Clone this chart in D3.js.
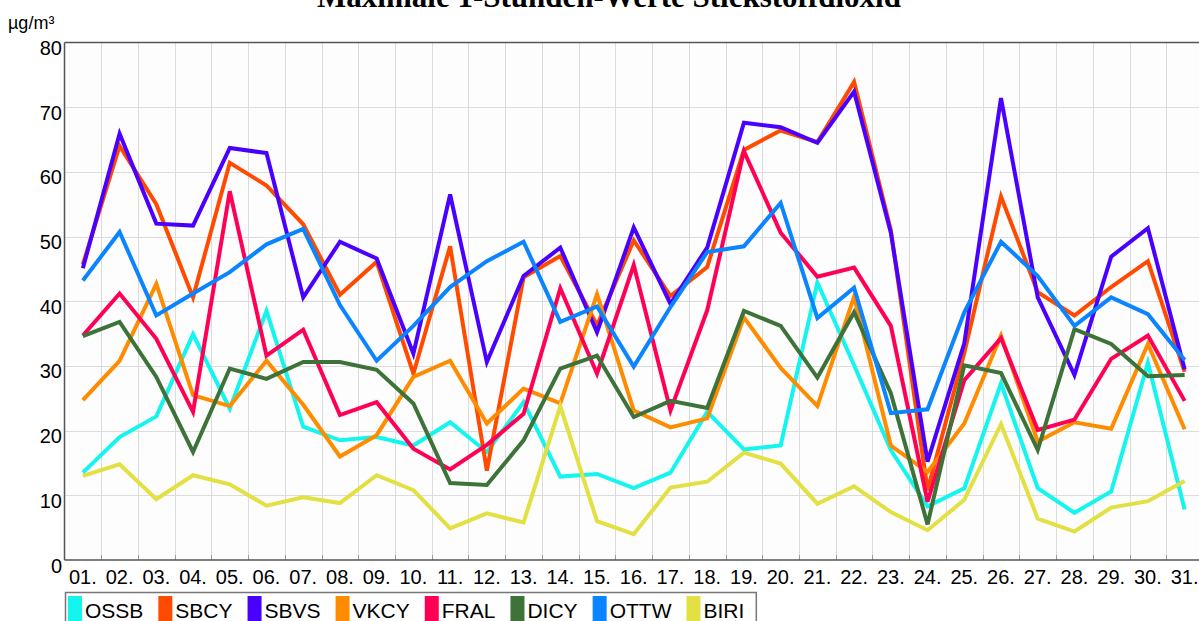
<!DOCTYPE html>
<html>
<head>
<meta charset="utf-8">
<script src="https://cdn.jsdelivr.net/npm/d3@7"></script>
<style>
  html, body { margin: 0; padding: 0; background: #ffffff; overflow: hidden; }
  svg { display: block; }
</style>
</head>
<body>
<svg id="chart" width="1199" height="621"></svg>
<script>
const days = ["01.","02.","03.","04.","05.","06.","07.","08.","09.","10.","11.","12.","13.","14.","15.","16.","17.","18.","19.","20.","21.","22.","23.","24.","25.","26.","27.","28.","29.","30.","31."];
const yTicks = [0, 10, 20, 30, 40, 50, 60, 70, 80];

const OSSB = [13.5, 19.0, 22.2, 34.9, 23.4, 38.5, 20.6, 18.5, 19.0, 17.7, 21.3, 16.7, 24.4, 12.9, 13.3, 11.1, 13.5, 22.9, 17.1, 17.7, 42.9, 30.1, 17.0, 8.3, 11.1, 27.3, 11.1, 7.3, 10.6, 30.5, 7.8];
const SBCY = [45.7, 64.0, 55.0, 40.6, 61.4, 57.9, 51.9, 41.0, 46.1, 28.8, 48.5, 13.8, 43.7, 47.0, 36.3, 49.4, 40.8, 45.3, 63.4, 66.4, 64.6, 73.9, 51.0, 10.8, 32.0, 56.2, 41.4, 37.8, 42.2, 46.2, 29.1];
const SBVS = [45.1, 65.9, 52.0, 51.7, 63.7, 62.9, 40.6, 49.2, 46.6, 31.9, 56.5, 30.6, 43.9, 48.3, 35.2, 51.4, 39.6, 48.3, 67.6, 66.9, 64.5, 72.4, 50.6, 15.2, 33.5, 71.4, 40.6, 28.6, 46.9, 51.3, 29.5];
const VKCY = [24.7, 30.8, 42.7, 25.5, 23.8, 30.8, 24.0, 16.0, 19.3, 28.3, 30.8, 21.1, 26.5, 24.2, 41.1, 23.1, 20.5, 21.9, 37.5, 29.7, 23.8, 40.7, 17.7, 13.6, 21.1, 34.7, 18.3, 21.3, 20.3, 33.4, 20.2];
const FRAL = [34.7, 41.2, 34.2, 22.9, 57.0, 31.6, 35.6, 22.4, 24.4, 17.2, 14.0, 17.8, 22.6, 42.0, 28.8, 45.6, 23.1, 38.6, 63.2, 50.6, 43.8, 45.2, 36.2, 9.0, 27.8, 34.3, 20.1, 21.7, 31.1, 34.7, 24.6];
const DICY = [34.6, 36.8, 28.3, 16.7, 29.6, 28.0, 30.6, 30.6, 29.4, 24.2, 11.9, 11.6, 18.5, 29.6, 31.6, 22.1, 24.6, 23.5, 38.5, 36.2, 28.2, 38.3, 25.8, 5.5, 30.1, 28.9, 17.0, 35.7, 33.4, 28.4, 28.6];
const OTTW = [43.2, 50.7, 37.8, 41.2, 44.5, 48.8, 51.2, 39.4, 30.8, 36.2, 42.2, 46.2, 49.2, 36.8, 39.2, 29.9, 39.1, 47.6, 48.5, 55.2, 37.4, 42.1, 22.7, 23.3, 38.3, 49.2, 43.9, 36.2, 40.6, 38.0, 30.9];
const BIRI = [13.0, 14.8, 9.4, 13.1, 11.7, 8.4, 9.7, 8.8, 13.1, 10.8, 4.9, 7.2, 5.8, 23.8, 6.0, 4.0, 11.2, 12.1, 16.6, 14.9, 8.7, 11.4, 7.4, 4.6, 9.3, 21.0, 6.4, 4.4, 8.1, 9.1, 12.2];

const seriesNames = ["OSSB", "SBCY", "SBVS", "VKCY", "FRAL", "DICY", "OTTW", "BIRI"];
const seriesValues = [OSSB, SBCY, SBVS, VKCY, FRAL, DICY, OTTW, BIRI];
const seriesColors = ["#14f5ef", "#ff4a00", "#4a00ff", "#ff8c00", "#ff0055", "#3d7238", "#0a84ff", "#e2e042"];

const titleText = "Maximale 1-Stunden-Werte Stickstoffdioxid";
const unitText = "µg/m³";

const svg = d3.select("#chart");
const W = 1199, H = 621;
const m = { left: 64.5, right: 1203, top: 42.5, bottom: 560 };

const x = d3.scaleBand().domain(days).range([m.left, m.right]).paddingInner(0).paddingOuter(0);
const y = d3.scaleLinear().domain([0, 80]).range([m.bottom, m.top]);
const cx = d => x(d) + x.bandwidth() / 2;

// plot background
svg.append("rect").attr("x", m.left).attr("y", m.top)
  .attr("width", m.right - m.left).attr("height", m.bottom - m.top)
  .attr("fill", "#fdfdfd");

// horizontal gridlines
svg.append("g").selectAll("line").data(yTicks.filter(t => t > 0 && t < 80)).join("line")
  .attr("x1", m.left).attr("x2", m.right)
  .attr("y1", d => Math.round(y(d)) + 0.5).attr("y2", d => Math.round(y(d)) + 0.5)
  .attr("stroke", "#dcdcdc").attr("stroke-width", 1);

// vertical gridlines at band boundaries
svg.append("g").selectAll("line").data(days.slice(1)).join("line")
  .attr("x1", d => Math.round(x(d)) + 0.5).attr("x2", d => Math.round(x(d)) + 0.5)
  .attr("y1", m.top).attr("y2", m.bottom)
  .attr("stroke", "#dcdcdc").attr("stroke-width", 1);

// small tick marks at bottom
svg.append("g").selectAll("line").data(days.slice(1)).join("line")
  .attr("x1", d => Math.round(x(d)) + 0.5).attr("x2", d => Math.round(x(d)) + 0.5)
  .attr("y1", m.bottom - 5).attr("y2", m.bottom)
  .attr("stroke", "#999").attr("stroke-width", 1);

// frame
svg.append("line").attr("x1", m.left).attr("x2", W).attr("y1", m.top).attr("y2", m.top)
  .attr("stroke", "#555").attr("stroke-width", 1.5);
svg.append("line").attr("x1", m.left).attr("x2", m.left).attr("y1", m.top).attr("y2", m.bottom)
  .attr("stroke", "#555").attr("stroke-width", 1.5);
svg.append("line").attr("x1", m.left).attr("x2", W).attr("y1", m.bottom).attr("y2", m.bottom)
  .attr("stroke", "#555").attr("stroke-width", 1.5);

// y tick labels
svg.append("g").selectAll("text").data(yTicks).join("text")
  .attr("x", 62).attr("y", d => y(d) + 12.5)
  .attr("text-anchor", "end")
  .attr("font-family", "'Liberation Sans', Arial, sans-serif")
  .attr("font-size", 20).attr("fill", "#000")
  .text(d => d);

// x tick labels
svg.append("g").selectAll("text").data(days).join("text")
  .attr("x", d => cx(d)).attr("y", 584)
  .attr("text-anchor", "middle")
  .attr("font-family", "'Liberation Sans', Arial, sans-serif")
  .attr("font-size", 20).attr("fill", "#000")
  .text(d => d);

// lines
const line = d3.line().x((v, i) => cx(days[i])).y(v => y(v));
svg.append("clipPath").attr("id", "plotclip")
  .append("rect").attr("x", m.left).attr("y", 0).attr("width", m.right - m.left).attr("height", m.bottom);
const lg = svg.append("g").attr("clip-path", "url(#plotclip)");
seriesValues.forEach((vals, k) => {
  lg.append("path").datum(vals)
    .attr("d", line)
    .attr("fill", "none")
    .attr("stroke", seriesColors[k])
    .attr("stroke-width", 4)
    .attr("stroke-linejoin", "miter")
    .attr("stroke-miterlimit", 4);
});

// title (mostly cut off at top, as in the reference)
svg.append("text").attr("x", 609).attr("y", 6.5)
  .attr("text-anchor", "middle")
  .attr("font-family", "'Liberation Serif', 'Times New Roman', serif")
  .attr("font-weight", "bold").attr("font-size", 31).attr("fill", "#000")
  .text(titleText);

// unit label
svg.append("text").attr("x", 8).attr("y", 29)
  .attr("font-family", "'Liberation Sans', Arial, sans-serif")
  .attr("font-size", 18).attr("fill", "#000")
  .text(unitText);

// legend
const legendG = svg.append("g");
const legendBox = legendG.append("rect").attr("x", 65.5).attr("y", 592.5)
  .attr("height", 60).attr("fill", "#fff").attr("stroke", "#777").attr("stroke-width", 1.5);
let lx = 68;
seriesNames.forEach((name, k) => {
  legendG.append("rect").attr("x", lx).attr("y", 596).attr("width", 14).attr("height", 40)
    .attr("fill", seriesColors[k]);
  const t = legendG.append("text").attr("x", lx + 17).attr("y", 618)
    .attr("font-family", "'Liberation Sans', Arial, sans-serif")
    .attr("font-size", 21).attr("fill", "#000").text(name);
  const w = t.node().getComputedTextLength();
  lx = lx + 17 + w + 15;
});
legendBox.attr("width", lx - 15 + 12 - 65.5);
</script>
</body>
</html>
